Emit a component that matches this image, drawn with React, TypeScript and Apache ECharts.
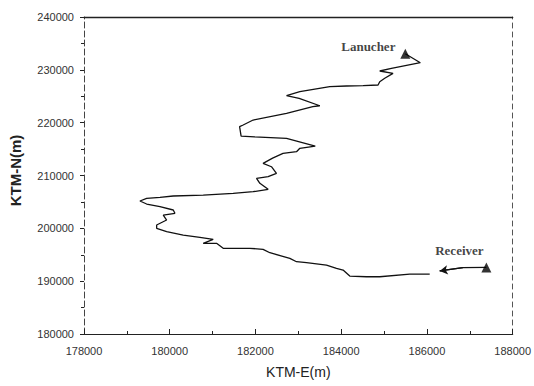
import React, { useEffect, useRef } from "react";
import * as echarts from "echarts";

// Track from launcher to receiver (KTM-E, KTM-N in metres)
const trackE = [
  185496, 185846, 185172, 184899, 185209, 185016, 184899, 184860, 184510, 184123,
  183734, 183035, 182725, 183019, 183500, 183338, 182725, 181946, 181713, 181630,
  181665, 181980, 182725, 183395, 183035, 182958, 182643, 182400, 182178, 182373,
  182490, 182296, 182025, 182103, 182296, 181946, 181480, 180781, 180082, 179772,
  179462, 179305, 179462, 179772, 180082, 180121, 179849, 179928, 179695, 179695,
  179928, 180315, 180704, 181014, 180781, 181093, 181247, 181480, 181869, 182178,
  182336, 182802, 182958, 183191, 183657, 183890, 184044, 184200, 184590, 184900,
  185599, 186065,
];
const trackN = [
  233050, 231350, 230290, 229780, 229340, 228400, 227750, 227130, 227000, 226940,
  226810, 225860, 225140, 224610, 223200, 223020, 221770, 220500, 219560, 219250,
  217450, 217300, 217040, 215560, 215150, 214500, 214200, 213300, 212300, 211660,
  210410, 209770, 209470, 208520, 207380, 206930, 206630, 206300, 206120, 205870,
  205680, 205170, 204600, 204090, 203470, 202840, 202520, 201570, 200630, 200000,
  199360, 198730, 198300, 197920, 197160, 197160, 196220, 196220, 196220, 196030,
  195380, 194320, 193680, 193490, 193050, 192430, 192110, 190970, 190840, 190840,
  191350, 191350,
];
// Final segment leaving the receiver (drawn with an arrow head)
const receiverSegE = [187387, 186840, 186298];
const receiverSegN = [192610, 192560, 191930];

const endpointNames = ["Lanucher", "Receiver"];
const endpointE = [185496, 187387];
const endpointN = [233050, 192610];

const xTicks = { min: 178000, max: 188000, interval: 2000 };
const yTicks = { min: 180000, max: 240000, interval: 10000 };

export default function App() {
  const ref = useRef<HTMLDivElement>(null);
  useEffect(() => {
    if (!ref.current) return;
    const chart = echarts.init(ref.current, undefined, { renderer: "svg" });
    const labelStyle = {
      color: "#333",
      fontFamily: "Liberation Sans",
      fontSize: 11,
      formatter: (v: number) => String(v),
    };
    const trackData = trackE.map((e, i) => [e, trackN[i]]);
    const recData = receiverSegE.map((e, i) => [e, receiverSegN[i]]);
    const endData = endpointE.map((e, i) => ({
      value: [e, endpointN[i]],
      name: endpointNames[i],
      label: {
        offset: i === 0 ? [-37, -7] : [-27, -17],
      },
    }));
    chart.setOption({
      animation: false,
      grid: { left: 84, right: 21, top: 17, bottom: 52 },
      xAxis: [
        {
          type: "value",
          min: xTicks.min,
          max: xTicks.max,
          interval: xTicks.interval,
          name: "KTM-E(m)",
          nameLocation: "middle",
          nameGap: 31,
          nameTextStyle: {
            color: "#222",
            fontFamily: "Liberation Sans",
            fontSize: 14,
          },
          axisLine: { show: true, onZero: false, lineStyle: { color: "#222", width: 1.2 } },
          axisTick: { show: true, inside: true, length: 5, lineStyle: { color: "#222" } },
          minorTick: { show: true, splitNumber: 2, length: 3, lineStyle: { color: "#222" } },
          axisLabel: { ...labelStyle, margin: 11 },
          splitLine: { show: false },
        },
        {
          type: "value",
          position: "top",
          min: xTicks.min,
          max: xTicks.max,
          interval: xTicks.interval,
          axisLine: { show: true, onZero: false, lineStyle: { color: "#222", width: 1.4 } },
          axisTick: { show: false },
          axisLabel: { show: false },
          splitLine: { show: false },
        },
      ],
      yAxis: [
        {
          type: "value",
          min: yTicks.min,
          max: yTicks.max,
          interval: yTicks.interval,
          name: "KTM-N(m)",
          nameLocation: "middle",
          nameGap: 61,
          nameTextStyle: {
            color: "#222",
            fontFamily: "Liberation Sans",
            fontSize: 15,
            fontWeight: "bold",
            padding: [0, 0, 0, 10],
          },
          axisLine: { show: true, onZero: false, lineStyle: { color: "#444", width: 1, type: [6, 3] } },
          axisTick: { show: true, inside: false, length: 4, lineStyle: { color: "#222" } },
          minorTick: { show: true, splitNumber: 2, length: 3, lineStyle: { color: "#222" } },
          axisLabel: { ...labelStyle, margin: 10 },
          splitLine: { show: false },
        },
        {
          type: "value",
          position: "right",
          min: yTicks.min,
          max: yTicks.max,
          interval: yTicks.interval,
          axisLine: { show: true, onZero: false, lineStyle: { color: "#555", width: 1, type: [5, 4] } },
          axisTick: { show: false },
          axisLabel: { show: false },
          splitLine: { show: false },
        },
      ],
      series: [
        {
          type: "line",
          data: trackData,
          showSymbol: false,
          symbol: "none",
          lineStyle: { color: "#111", width: 1.3 },
          z: 3,
        },
        {
          type: "line",
          data: recData,
          showSymbol: false,
          symbol: "none",
          lineStyle: { color: "#111", width: 1.3 },
          markLine: {
            silent: true,
            symbol: ["none", "arrow"],
            symbolSize: [7, 8],
            lineStyle: { color: "#111", width: 1.3, type: "solid" },
            label: { show: false },
            data: [
              [
                { coord: recData[recData.length - 2] },
                { coord: recData[recData.length - 1] },
              ],
            ],
          },
          z: 3,
        },
        {
          type: "scatter",
          data: endData,
          symbol: "triangle",
          symbolSize: 10,
          itemStyle: { color: "#000" },
          label: {
            show: true,
            position: "inside",
            formatter: "{b}",
            color: "#111",
            fontFamily: "Liberation Serif",
            fontSize: 13,
            fontWeight: "bold",
          },
          z: 4,
        },
        {
          type: "line",
          xAxisIndex: 1,
          yAxisIndex: 1,
          data: [],
          silent: true,
        },
      ],
    });
    return () => chart.dispose();
  }, []);
  return (
    <div
      ref={ref}
      style={{ position: "absolute", left: 0, top: 0, width: 534, height: 386 }}
    />
  );
}
